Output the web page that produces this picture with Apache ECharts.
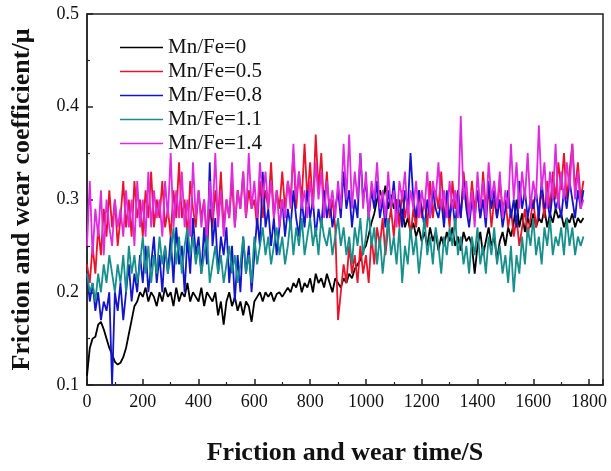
<!DOCTYPE html>
<html lang="en" style="background: #FFFFFF;height: 100%">
<head>
    <meta charset="utf-8" />
    <title>Friction and wear coefficient</title>
    <script src="https://cdn.jsdelivr.net/npm/echarts@6/dist/echarts.min.js"></script>
</head>
<body style="margin: 0;height: 100%">
    <div id="chart" style="width:611px;height:471px"></div>
    <script>
    // time axis, one sample every 10 s (0 .. 1780 s)
    let step = 10
    let names = ['Mn/Fe=0', 'Mn/Fe=0.5', 'Mn/Fe=0.8', 'Mn/Fe=1.1', 'Mn/Fe=1.4']
    let colors = ['#000000', '#e8142c', '#1414c8', '#17908c', '#e02ae0']

    let mnfe0 = [
        0.11, 0.14, 0.15, 0.152, 0.165, 0.168, 0.16, 0.15, 0.14, 0.133,
        0.125, 0.122, 0.124, 0.13, 0.14, 0.155, 0.17, 0.185, 0.19, 0.2,
        0.195, 0.205, 0.19, 0.2, 0.195, 0.185, 0.2, 0.19, 0.205, 0.195,
        0.2, 0.185, 0.205, 0.19, 0.2, 0.195, 0.21, 0.19, 0.2, 0.195,
        0.19, 0.205, 0.185, 0.2, 0.195, 0.19, 0.2, 0.175, 0.19, 0.165,
        0.19, 0.2, 0.185, 0.195, 0.18, 0.19, 0.175, 0.19, 0.185, 0.168,
        0.19, 0.195, 0.2, 0.19, 0.2, 0.195, 0.2, 0.19, 0.198, 0.2,
        0.195, 0.2, 0.205, 0.2, 0.21, 0.205, 0.215, 0.2, 0.21, 0.205,
        0.215, 0.2, 0.22, 0.21, 0.215, 0.205, 0.22, 0.21, 0.2, 0.215,
        0.21, 0.205, 0.215, 0.21, 0.22, 0.215, 0.225, 0.23, 0.235, 0.245,
        0.25, 0.262, 0.275, 0.285, 0.3, 0.31, 0.3, 0.315, 0.29, 0.305,
        0.29, 0.3, 0.28, 0.29, 0.27, 0.28, 0.265, 0.275, 0.26, 0.27,
        0.255, 0.265, 0.25, 0.27, 0.255, 0.265, 0.245, 0.26, 0.25, 0.265,
        0.255, 0.27, 0.25, 0.26, 0.245, 0.265, 0.255, 0.26, 0.25, 0.22,
        0.25, 0.265, 0.24, 0.255, 0.27, 0.25, 0.26, 0.235, 0.255, 0.265,
        0.25, 0.27, 0.26, 0.275, 0.3, 0.27, 0.285, 0.265, 0.28, 0.27,
        0.285, 0.27, 0.28, 0.275, 0.29, 0.27, 0.285, 0.275, 0.29, 0.28,
        0.285, 0.27, 0.28, 0.275, 0.285, 0.27, 0.28, 0.275, 0.28
    ]
    let mnfe05 = [
        0.23, 0.21, 0.25, 0.22, 0.27, 0.24, 0.29, 0.26, 0.31, 0.27,
        0.3, 0.25, 0.28, 0.32, 0.27, 0.3, 0.26, 0.32, 0.28, 0.3,
        0.26, 0.31, 0.28, 0.33, 0.27, 0.3, 0.28, 0.32, 0.27, 0.29,
        0.26, 0.31, 0.28, 0.34, 0.28, 0.3, 0.26, 0.32, 0.29, 0.27,
        0.31, 0.28, 0.3, 0.25, 0.29, 0.27, 0.31, 0.28, 0.33, 0.27,
        0.3, 0.28, 0.32, 0.27, 0.31, 0.29, 0.33, 0.28, 0.31, 0.29,
        0.3, 0.27, 0.32, 0.28, 0.31, 0.29, 0.34, 0.28, 0.31, 0.29,
        0.33, 0.29, 0.32, 0.3, 0.35, 0.29, 0.33, 0.3, 0.36, 0.3,
        0.34, 0.29, 0.37, 0.31, 0.35, 0.29, 0.33, 0.28, 0.3, 0.27,
        0.17, 0.2, 0.23, 0.21, 0.25, 0.22, 0.24, 0.21, 0.25, 0.22,
        0.24, 0.21, 0.26, 0.23, 0.27, 0.25, 0.28, 0.24, 0.27, 0.29,
        0.26, 0.3, 0.27, 0.31, 0.28, 0.3, 0.26, 0.29, 0.27, 0.31,
        0.28, 0.3, 0.27, 0.32, 0.28, 0.31, 0.29, 0.33, 0.28, 0.3,
        0.27, 0.32, 0.29, 0.31, 0.28, 0.33, 0.3, 0.28, 0.32, 0.29,
        0.31, 0.28, 0.33, 0.29, 0.31, 0.27, 0.3, 0.28, 0.32, 0.29,
        0.3, 0.27, 0.29, 0.26, 0.28, 0.25, 0.27, 0.29, 0.26, 0.28,
        0.3, 0.27, 0.29, 0.31, 0.28, 0.32, 0.29, 0.33, 0.3, 0.34,
        0.31, 0.35, 0.3, 0.33, 0.36, 0.31, 0.34, 0.3, 0.32
    ]
    let mnfe08 = [
        0.22, 0.19, 0.21, 0.18, 0.2, 0.17, 0.19, 0.18, 0.2, 0.1,
        0.2, 0.18, 0.21, 0.17, 0.2, 0.23, 0.19, 0.22, 0.2, 0.24,
        0.21, 0.25, 0.2, 0.23, 0.26, 0.21, 0.24, 0.2, 0.25, 0.22,
        0.26, 0.21, 0.27, 0.23, 0.25, 0.2, 0.26, 0.22, 0.28, 0.24,
        0.26, 0.22, 0.27, 0.23, 0.34, 0.25, 0.28, 0.22, 0.26, 0.24,
        0.27, 0.21, 0.25, 0.19, 0.24, 0.2, 0.26, 0.22, 0.25, 0.2,
        0.24, 0.28, 0.25, 0.33, 0.27, 0.29, 0.25, 0.28, 0.24, 0.27,
        0.3, 0.26, 0.29, 0.27, 0.31, 0.28, 0.26, 0.3, 0.27, 0.31,
        0.28, 0.3, 0.26, 0.29, 0.27, 0.31, 0.28, 0.3, 0.27, 0.29,
        0.31, 0.28, 0.33, 0.29, 0.31, 0.27, 0.3, 0.28, 0.35, 0.3,
        0.32, 0.28, 0.31, 0.29, 0.32, 0.28, 0.3, 0.27, 0.31, 0.29,
        0.32, 0.28, 0.3, 0.27, 0.31, 0.29, 0.35, 0.3, 0.28, 0.31,
        0.29, 0.27, 0.3, 0.28, 0.31, 0.29, 0.28, 0.3, 0.27, 0.31,
        0.28, 0.3, 0.27, 0.31, 0.28, 0.32, 0.29, 0.27, 0.3, 0.28,
        0.31, 0.28, 0.3, 0.27, 0.32, 0.29, 0.31, 0.28, 0.3, 0.27,
        0.29, 0.31, 0.28, 0.3, 0.27, 0.32, 0.29, 0.31, 0.28, 0.3,
        0.29, 0.31, 0.28, 0.32, 0.29, 0.3, 0.28, 0.31, 0.29, 0.3,
        0.28, 0.31, 0.29, 0.32, 0.3, 0.28, 0.31, 0.29, 0.31
    ]
    let mnfe11 = [
        0.22, 0.2, 0.21, 0.19, 0.22, 0.2, 0.23, 0.21, 0.24, 0.22,
        0.2, 0.23, 0.21, 0.24, 0.2, 0.25, 0.22, 0.24, 0.21, 0.23,
        0.26, 0.22, 0.25, 0.21, 0.24, 0.22, 0.26, 0.23, 0.25, 0.22,
        0.24, 0.27, 0.23, 0.26, 0.22, 0.25, 0.27, 0.24, 0.26, 0.23,
        0.25, 0.22, 0.24, 0.26, 0.21, 0.23, 0.25, 0.22, 0.24, 0.21,
        0.23, 0.25, 0.22, 0.24, 0.21, 0.23, 0.26, 0.22, 0.24, 0.21,
        0.26, 0.23, 0.25, 0.27, 0.24, 0.26, 0.23, 0.25, 0.27, 0.24,
        0.26, 0.23, 0.25, 0.28, 0.24, 0.27, 0.25, 0.28, 0.24, 0.26,
        0.28, 0.25, 0.27, 0.24, 0.28, 0.26, 0.25, 0.27, 0.24, 0.26,
        0.28, 0.25, 0.27, 0.24, 0.26, 0.23, 0.27, 0.25, 0.28, 0.24,
        0.26, 0.29, 0.25, 0.27, 0.23, 0.26, 0.22, 0.25, 0.28, 0.24,
        0.26, 0.23, 0.27, 0.21, 0.25, 0.23, 0.27, 0.24, 0.26, 0.22,
        0.25, 0.28, 0.24, 0.26, 0.23, 0.27, 0.25, 0.22, 0.26, 0.24,
        0.27, 0.25, 0.28, 0.24, 0.26, 0.23, 0.25, 0.22, 0.26, 0.24,
        0.27, 0.23, 0.25, 0.22, 0.26, 0.24, 0.27, 0.23, 0.25, 0.22,
        0.24, 0.21, 0.25, 0.2, 0.24, 0.22, 0.26, 0.23, 0.27, 0.25,
        0.28, 0.24, 0.26, 0.23, 0.27, 0.25, 0.28, 0.24, 0.26, 0.25,
        0.27, 0.24, 0.28, 0.25, 0.27, 0.24, 0.26, 0.25, 0.26
    ]
    let mnfe14 = [
        0.25, 0.32, 0.24, 0.29, 0.26, 0.31, 0.24, 0.3, 0.27, 0.25,
        0.3, 0.27, 0.29, 0.26, 0.31, 0.27, 0.3, 0.25, 0.32, 0.27,
        0.3, 0.26, 0.33, 0.27, 0.31, 0.28, 0.3, 0.26, 0.32, 0.28,
        0.35, 0.27, 0.31, 0.28, 0.33, 0.27, 0.3, 0.26, 0.34, 0.28,
        0.31, 0.27, 0.3, 0.26, 0.32, 0.28, 0.35, 0.27, 0.31, 0.26,
        0.3, 0.28, 0.34, 0.27, 0.31, 0.29, 0.33, 0.28, 0.35, 0.29,
        0.32, 0.28, 0.34, 0.3, 0.33, 0.29, 0.32, 0.28, 0.31, 0.27,
        0.3, 0.28, 0.32, 0.29, 0.36, 0.3, 0.33, 0.29, 0.31, 0.28,
        0.32, 0.29, 0.34, 0.3, 0.33, 0.28, 0.32, 0.29, 0.31, 0.28,
        0.32, 0.29, 0.36, 0.3, 0.37, 0.29, 0.33, 0.3, 0.35, 0.29,
        0.33, 0.28, 0.32, 0.3, 0.34, 0.29, 0.31, 0.28, 0.33, 0.29,
        0.31, 0.27, 0.32, 0.3, 0.33, 0.28, 0.31, 0.29, 0.32, 0.28,
        0.31, 0.29, 0.33, 0.28, 0.32, 0.3, 0.34, 0.29, 0.31, 0.28,
        0.32, 0.29, 0.31, 0.28, 0.39, 0.3, 0.32, 0.28, 0.31, 0.27,
        0.33, 0.29, 0.32, 0.28, 0.34, 0.3, 0.32, 0.29, 0.33, 0.28,
        0.31, 0.29, 0.36, 0.3, 0.34, 0.29, 0.33, 0.3, 0.35, 0.29,
        0.32, 0.3, 0.38, 0.31, 0.34, 0.29, 0.33, 0.3, 0.36, 0.29,
        0.33, 0.3, 0.34, 0.31, 0.36, 0.3, 0.33, 0.29, 0.3
    ]
    let allData = [mnfe0, mnfe05, mnfe08, mnfe11, mnfe14]

    let font = '"Liberation Serif", "Times New Roman", serif'
    let chart = echarts.init(document.getElementById('chart'))

    let series = allData.map(function(arr, k) {
        return {
            name: names[k],
            type: 'line',
            symbol: 'none',
            color: colors[k],
            lineStyle: { width: 1.8 },
            data: arr.map(function(v, i) { return [i * step, v] })
        }
    })

    let axisLineStyle = { show: true, lineStyle: { color: '#222', width: 1.5 } }

    chart.setOption({
        animation: false,
        grid: { left: 87, right: 8, top: 14, bottom: 75, show: true, borderColor: '#222', borderWidth: 1.5 },
        legend: {
            orient: 'vertical',
            left: 115,
            top: 32,
            icon: 'rect',
            itemWidth: 43,
            itemHeight: 1.5,
            itemGap: 3,
            data: names,
            textStyle: { fontFamily: font, fontSize: 21, color: '#111', lineHeight: 20.5 }
        },
        xAxis: {
            type: 'value',
            min: 0,
            max: 1850,
            interval: 200,
            name: 'Friction and wear time/S',
            nameLocation: 'middle',
            nameGap: 55,
            nameTextStyle: { fontFamily: font, fontSize: 26, fontWeight: 'bold', color: '#111' },
            axisLine: axisLineStyle,
            axisTick: { inside: true, length: 6, lineStyle: { color: '#222', width: 1.5 } },
            minorTick: { show: true, splitNumber: 2, length: 3, lineStyle: { color: '#222', width: 1.2 } },
            splitLine: { show: false },
            axisLabel: {
                fontFamily: font, fontSize: 18, color: '#111', margin: 8, showMaxLabel: false,
                formatter: function(v) { return String(v) }
            }
        },
        yAxis: {
            type: 'value',
            min: 0.1,
            max: 0.5,
            interval: 0.1,
            name: 'Friction and wear coefficient/μ',
            nameLocation: 'middle',
            nameGap: 52,
            nameRotate: 90,
            nameTextStyle: { fontFamily: font, fontSize: 26, fontWeight: 'bold', color: '#111' },
            axisLine: axisLineStyle,
            axisTick: { inside: true, length: 6, lineStyle: { color: '#222', width: 1.5 } },
            minorTick: { show: true, splitNumber: 2, length: 3, lineStyle: { color: '#222', width: 1.2 } },
            splitLine: { show: false },
            axisLabel: {
                fontFamily: font, fontSize: 18, color: '#111', margin: 8,
                formatter: function(v) { return v.toFixed(1) }
            }
        },
        series: series
    })
    </script>
</body>
</html>
